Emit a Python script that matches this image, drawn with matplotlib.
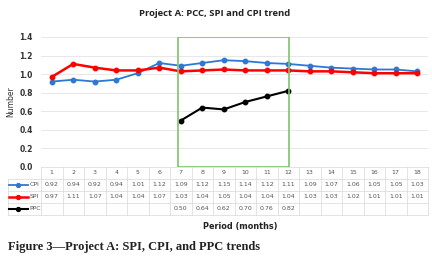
import matplotlib.pyplot as plt
from matplotlib.patches import Rectangle

# data
periods = list(range(1, 19))
cpi = [0.92, 0.94, 0.92, 0.94, 1.01, 1.12, 1.09, 1.12, 1.15, 1.14, 1.12, 1.11,
       1.09, 1.07, 1.06, 1.05, 1.05, 1.03]
spi = [0.97, 1.11, 1.07, 1.04, 1.04, 1.07, 1.03, 1.04, 1.05, 1.04, 1.04, 1.04,
       1.03, 1.03, 1.02, 1.01, 1.01, 1.01]
ppc_periods = [7, 8, 9, 10, 11, 12]
ppc = [0.50, 0.64, 0.62, 0.70, 0.76, 0.82]

series = [('CPI', '#2f78d2', periods, cpi, 1.3),
          ('SPI', '#ff0000', periods, spi, 1.8),
          ('PPC', '#000000', ppc_periods, ppc, 1.5)]

W, H = 432, 265
fig = plt.figure(figsize=(W / 100, H / 100), dpi=100)
ax = fig.add_axes([41 / W, 1 - 167 / H, (428 - 41) / W, 130 / H])
colw = (428 - 41) / 18

for name, col, xs, ys, lw in series:
    ax.plot(xs, ys, color=col, lw=lw, marker='o', ms=3.2, zorder=3)

ax.set_xlim(0.5, 18.5)
ax.set_ylim(0, 1.4)
ax.set_yticks([0, 0.2, 0.4, 0.6, 0.8, 1.0, 1.2, 1.4])
ax.set_yticklabels([f'{v:.1f}' for v in ax.get_yticks()],
                   fontsize=5.5, fontweight='bold', color='#333333')
ax.tick_params(axis='y', length=0, pad=6)
ax.set_xticks([])
ax.grid(axis='y', color='#e4e4e4', lw=0.6)
ax.set_axisbelow(True)
for s in ax.spines.values():
    s.set_visible(False)

# highlight box around periods 7-12
ax.add_patch(Rectangle((6.85, 0), 5.2, 1.4, fill=False, ec='#7cc46a', lw=1.2, zorder=4))

ax.set_ylabel('Number', fontsize=5.5, color='#333333', labelpad=3)

# data table drawn under the axes
rh = 12 / 130
x_left = 0.5 - (41 - 8) / colw
tc = '#d8d8d8'
trans = ax.get_xaxis_transform()
rows = len(series) + 1
for i in range(rows + 1):
    y = -i * rh
    x0 = 0.5 if i == 0 else x_left
    ax.plot([x0, 18.5], [y, y], transform=trans, color=tc, lw=0.5, clip_on=False)
for k in range(19):
    xv = 0.5 + k
    ax.plot([xv, xv], [0, -rows * rh], transform=trans, color=tc, lw=0.5, clip_on=False)
ax.plot([x_left, x_left], [-rh, -rows * rh], transform=trans,
        color=tc, lw=0.5, clip_on=False)

for p in periods:
    ax.text(p, -0.5 * rh, str(p), transform=trans, ha='center', va='center',
            fontsize=4.5, color='#555555')
for r, (name, col, xs, ys, lw) in enumerate(series, start=1):
    yc = -(r + 0.5) * rh
    ax.plot([x_left + 0.05, x_left + 0.95], [yc, yc], transform=trans,
            color=col, lw=lw, clip_on=False)
    ax.plot([x_left + 0.45], [yc], transform=trans, color=col, marker='o',
            ms=2.8, clip_on=False)
    ax.text(x_left + 1.0, yc, name, transform=trans, ha='left', va='center',
            fontsize=4.5, color='#555555')
    for xv, yv in zip(xs, ys):
        ax.text(xv, yc, f'{yv:.2f}', transform=trans, ha='center', va='center',
                fontsize=4.5, color='#555555')

fig.text(240 / W, 1 - 226 / H, 'Period (months)', ha='center', va='center',
         fontsize=5.9, fontweight='bold', color='#222222')
fig.text(215 / W, 1 - 13 / H, 'Project A: PCC, SPI and CPI trend', ha='center',
         va='center', fontsize=6.8, fontweight='bold', color='#222222',
         family='Open Sans')
fig.text(8 / W, 1 - 247 / H, 'Figure 3\u2014Project A: SPI, CPI, and PPC trends',
         ha='left', va='center', fontsize=9, fontweight='bold',
         family='Liberation Serif', color='#222222')

fig.savefig('out.png', dpi=100)
